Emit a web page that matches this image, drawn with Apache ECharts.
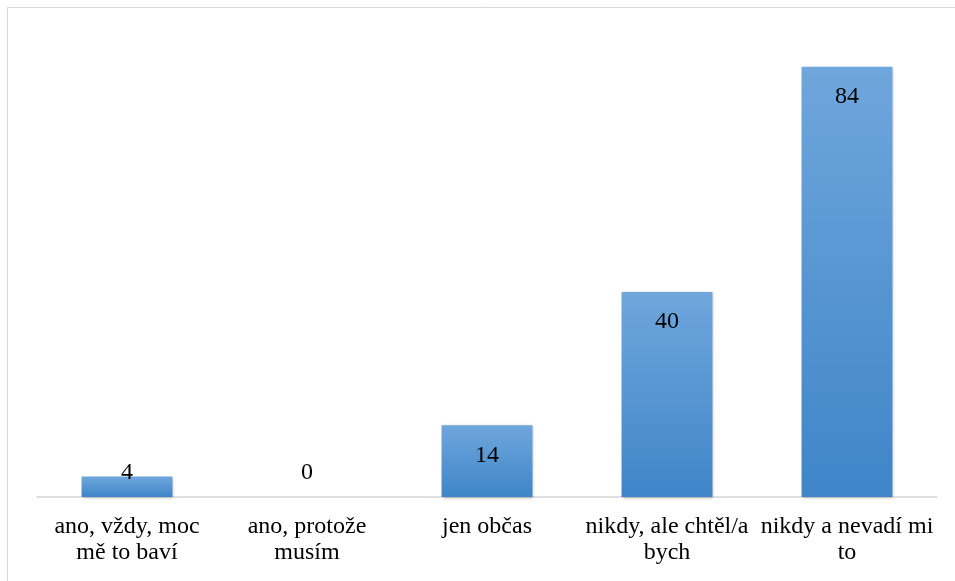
<!DOCTYPE html>
<html><head><meta charset="utf-8">
<script src="https://cdn.jsdelivr.net/npm/echarts@6/dist/echarts.min.js"></script>
<style>html,body{margin:0;padding:0;background:#fff}#c{width:955px;height:581px}</style>
</head><body><div id="c"></div>
<script>
const categories = ["ano, vždy, moc\nmě to baví", "ano, protože\nmusím", "jen občas", "nikdy, ale chtěl/a\nbych", "nikdy a nevadí mi\nto"];
const values = [4, 0, 14, 40, 84];

const chart = echarts.init(document.getElementById('c'));
const font = '"Liberation Serif", "Times New Roman", serif';
chart.setOption({
  animation: false,
  graphic: [{
    type: 'rect', shape: {x: 7.5, y: 7.5, width: 1200, height: 1200},
    style: {fill: 'none', stroke: '#d9d9d9', lineWidth: 1}, silent: true
  }],
  grid: {left: 37, right: 18, top: 36, bottom: 84},
  xAxis: {
    type: 'category', data: categories,
    axisTick: {show: false},
    axisLine: {lineStyle: {color: '#d4d4d4', width: 1.5}},
    axisLabel: {interval: 0, color: '#000', fontFamily: font, fontSize: 24, lineHeight: 26, margin: 17}
  },
  yAxis: {type: 'value', min: 0, max: 90, show: false, splitLine: {show: false}},
  series: [{
    type: 'bar', barWidth: '50.5%',
    data: values.map(v => ({
      value: v,
      label: v < 10 ? {position: 'insideBottom', distance: 12} : {position: 'insideTop', distance: 18}
    })),
    itemStyle: {
      color: new echarts.graphic.LinearGradient(0, 0, 0, 1, [
        {offset: 0, color: '#6fa6dc'}, {offset: 1, color: '#3f85c8'}
      ]),
      shadowColor: 'rgba(0,0,0,0.3)', shadowBlur: 3, shadowOffsetX: 1, shadowOffsetY: 1
    },
    label: {show: true, color: '#000', fontFamily: font, fontSize: 24}
  }]
});
</script></body></html>
